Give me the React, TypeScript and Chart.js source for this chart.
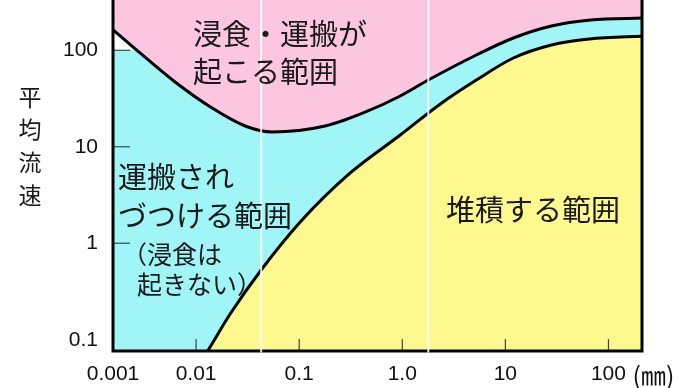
import React, { useEffect, useRef } from "react";
import { Chart, registerables } from "chart.js";

Chart.register(...registerables);

// ---- axis ranges / ticks ----
const X_MIN = 0.001563;
const X_MAX = 211.5;
const Y_MIN = 0.0764;
const Y_MAX = 332;

const xTickValues = [X_MIN, 0.01, 0.1, 1, 10, 100];
const xTickLabels = ["0.001", "0.01", "0.1", "1.0", "10", "100"];
const xUnitLabel = "(㎜)";
const yTickValues = [0.1, 1, 10, 100];
const yTickLabels = ["0.1", "1", "10", "100"];
const yAxisTitle = "平均流速";

// ---- erosion curve (grain size mm -> mean velocity) ----
const erosionSize = [0.001496, 0.002859, 0.00625, 0.01429, 0.0299, 0.05467, 0.1788, 0.4182, 0.956, 1.788, 5.228, 11.96, 27.97, 66.9, 230];
const erosionSpeed = [170.3, 93.8, 46.9, 25.2, 16.42, 14.23, 16.4, 22.4, 33.6, 49.2, 89.4, 134.1, 178.6, 206.2, 216.3];

// ---- deposition curve ----
const depositSize = [0.0117, 0.01294, 0.02138, 0.04276, 0.1023, 0.3126, 0.956, 2.34, 5.23, 11.96, 28, 65.4, 230];
const depositSpeed = [0.0646, 0.0764, 0.1846, 0.528, 1.66, 5.35, 13.24, 27.8, 49.2, 83.2, 113.5, 130.9, 140.7];

// ---- upper limit of the transport band at the far left ----
const capSize = [0.0015, 0.00265];
const capSpeed = [100, 100];

// ---- light seams in the picture ----
const seamSize = [0.0428, 1.788];

// ---- region texts ----
const regionLabels = ["浸食・運搬が", "起こる範囲", "運搬され", "づつける範囲", "（浸食は", "起きない）", "堆積する範囲"];

const PINK = "#fcc6e0";
const CYAN = "#a0f5f7";
const YELLOW = "#fdf98e";
const CJK = '"Noto Sans CJK JP", "Noto Sans CJK SC", sans-serif';
const LAT = '"Liberation Sans", Arial, sans-serif';

const labelLayout = [
  { x: 193, y: 34, size: 29 },
  { x: 193, y: 72, size: 29 },
  { x: 118, y: 177, size: 29 },
  { x: 118, y: 216, size: 29 },
  { x: 122, y: 254, size: 25 },
  { x: 137, y: 284, size: 25 },
  { x: 446, y: 210, size: 29 },
];

const overlayPlugin = {
  id: "overlay",
  afterDatasetsDraw(chart: any) {
    const { ctx, chartArea: a, scales } = chart;
    const xs = scales.x;
    const ys = scales.y;
    ctx.save();
    // inward tick marks
    ctx.strokeStyle = "#444";
    ctx.lineWidth = 1.2;
    xTickValues.forEach((v, i) => {
      if (i === 0) return;
      const px = xs.getPixelForValue(v);
      ctx.beginPath();
      ctx.moveTo(px, a.bottom);
      ctx.lineTo(px, a.bottom - 12);
      ctx.stroke();
    });
    yTickValues.forEach((v) => {
      if (v < 1) return;
      const py = ys.getPixelForValue(v);
      ctx.beginPath();
      ctx.moveTo(a.left, py);
      ctx.lineTo(a.left + 17, py);
      ctx.stroke();
    });
    // frame
    ctx.strokeStyle = "#000";
    ctx.lineWidth = 3;
    ctx.lineJoin = "miter";
    ctx.beginPath();
    ctx.moveTo(a.left, a.top - 3);
    ctx.lineTo(a.left, a.bottom);
    ctx.lineTo(a.right, a.bottom);
    ctx.lineTo(a.right, a.top - 3);
    ctx.stroke();
    // seams
    ctx.strokeStyle = "rgba(255,255,255,0.9)";
    ctx.lineWidth = 2;
    seamSize.forEach((d) => {
      const px = xs.getPixelForValue(d);
      ctx.beginPath();
      ctx.moveTo(px, a.top);
      ctx.lineTo(px, a.bottom + 1.5);
      ctx.stroke();
    });
    // region texts
    ctx.fillStyle = "#1a1a1a";
    ctx.textAlign = "left";
    ctx.textBaseline = "middle";
    regionLabels.forEach((t, i) => {
      const L = labelLayout[i];
      ctx.font = `${L.size}px ${CJK}`;
      ctx.fillText(t, L.x, L.y);
    });
    // y axis title (stacked)
    ctx.font = `23px ${CJK}`;
    ctx.textAlign = "center";
    Array.from(yAxisTitle).forEach((ch, i) => {
      ctx.fillText(ch, 30, 97 + i * 32.6);
    });
    // unit
    ctx.font = `25px ${CJK}`;
    ctx.textAlign = "left";
    ctx.fillStyle = "#111";
    ctx.fillText(xUnitLabel, xs.getPixelForValue(100) + 24, a.bottom + 24);
    ctx.restore();
  },
};

const pts = (xs: number[], ys: number[]) => xs.map((x, i) => ({ x, y: ys[i] }));

export default function App() {
  const ref = useRef<HTMLCanvasElement | null>(null);
  useEffect(() => {
    if (!ref.current) return;
    const chart = new Chart(ref.current, {
      type: "line",
      data: {
        datasets: [
          {
            label: "transport",
            data: pts(erosionSize, erosionSpeed),
            borderWidth: 0,
            borderColor: "rgba(0,0,0,0)",
            backgroundColor: CYAN,
            fill: "start",
            cubicInterpolationMode: "monotone",
            pointRadius: 0,
            order: 3,
          },
          {
            label: "cap",
            data: pts(capSize, capSpeed),
            borderWidth: 0,
            borderColor: "rgba(0,0,0,0)",
            backgroundColor: "#ffffff",
            fill: { target: 2 },
            tension: 0,
            pointRadius: 0,
            order: 2,
          },
          {
            label: "erosion",
            data: pts(erosionSize, erosionSpeed),
            borderWidth: 3,
            borderColor: "#000",
            backgroundColor: PINK,
            fill: "end",
            cubicInterpolationMode: "monotone",
            pointRadius: 0,
            order: 1,
          },
          {
            label: "deposition",
            data: pts(depositSize, depositSpeed),
            borderWidth: 3,
            borderColor: "#000",
            backgroundColor: YELLOW,
            fill: "start",
            cubicInterpolationMode: "monotone",
            pointRadius: 0,
            order: 1,
          },
        ],
      } as any,
      options: {
        animation: false,
        responsive: true,
        maintainAspectRatio: false,
        events: [],
        layout: { padding: { left: 0, top: 0, right: 48, bottom: 0 } },
        plugins: { legend: { display: false }, tooltip: { enabled: false } },
        scales: {
          x: {
            type: "logarithmic",
            min: X_MIN,
            max: X_MAX,
            grid: { display: false, drawTicks: false },
            border: { display: false },
            afterBuildTicks: (s: any) => {
              s.ticks = xTickValues.map((v) => ({ value: v }));
            },
            afterFit: (s: any) => {
              s.height = 37;
              s.paddingLeft = 0;
              s.paddingRight = 0;
              s.paddingTop = 0;
              s.paddingBottom = 0;
            },
            ticks: {
              autoSkip: false,
              maxRotation: 0,
              padding: 11,
              color: "#111",
              font: { family: LAT, size: 21 },
              callback: (_v: any, i: number) => xTickLabels[i],
            },
          },
          y: {
            type: "logarithmic",
            min: Y_MIN,
            max: Y_MAX,
            grid: { display: false, drawTicks: false },
            border: { display: false },
            afterBuildTicks: (s: any) => {
              s.ticks = yTickValues.map((v) => ({ value: v }));
            },
            afterFit: (s: any) => {
              s.width = 113;
              s.paddingLeft = 0;
              s.paddingRight = 0;
              s.paddingTop = 0;
              s.paddingBottom = 0;
            },
            ticks: {
              autoSkip: false,
              padding: 15,
              color: "#111",
              font: { family: LAT, size: 21 },
              callback: (_v: any, i: number) => yTickLabels[i],
            },
          },
        },
      } as any,
      plugins: [overlayPlugin],
    });
    return () => chart.destroy();
  }, []);
  return (
    <div style={{ position: "fixed", left: 0, top: 0, width: 690, height: 388, background: "#fff" }}>
      <canvas ref={ref} />
    </div>
  );
}
